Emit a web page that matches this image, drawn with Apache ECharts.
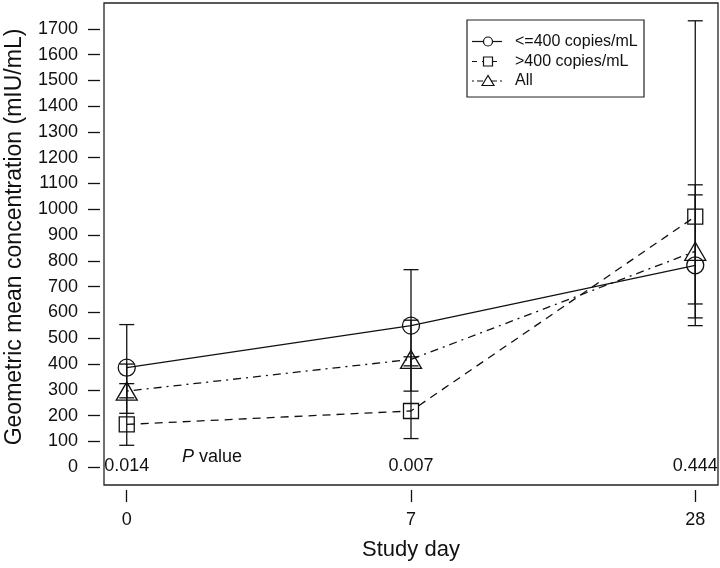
<!DOCTYPE html>
<html>
<head>
<meta charset="utf-8">
<script src="https://cdn.jsdelivr.net/npm/echarts@6/dist/echarts.min.js"></script>
<style>
html,body{margin:0;padding:0;background:#fff;}
#chart{width:720px;height:568px;}
</style>
</head>
<body>
<div id="chart"></div>
<script>
// ---- data ----
const days = ['0', '7', '28'];
const seriesNames = ['<=400 copies/mL', '>400 copies/mL', 'All'];
const gmcLow = [386, 549, 783];      // <=400 copies/mL
const gmcHigh = [166, 218, 972];     // >400 copies/mL
const gmcAll = [295, 418, 837];      // All
const ciLowLower = [269, 393, 579];
const ciLowUpper = [553, 766, 1056];
const ciHighLower = [85, 111, 549];
const ciHighUpper = [324, 428, 1731];
const ciAllLower = [209, 295, 633];
const ciAllUpper = [400, 570, 1095];
const pValues = ['0.014', '0.007', '0.444'];
const yTicks = [0,100,200,300,400,500,600,700,800,900,1000,1100,1200,1300,1400,1500,1600,1700];
const xTitle = 'Study day';
const yTitle = 'Geometric mean concentration (mIU/mL)';
const pLabel = 'P';
const pLabelRest = ' value';

const FONT = '"Liberation Sans", Arial, Helvetica, sans-serif';
const INK = '#111';

function pts(vals) { return vals.map((v, i) => [i, v]); }
function bars(lo, hi) { return lo.map((l, i) => [i, l, hi[i]]); }

function errRender(params, api) {
  const x = api.value(0);
  const p1 = api.coord([x, api.value(1)]);
  const p2 = api.coord([x, api.value(2)]);
  const hw = 7.5;
  const st = { stroke: INK, lineWidth: 1.3 };
  return {
    type: 'group',
    children: [
      { type: 'line', shape: { x1: p1[0], y1: p1[1], x2: p2[0], y2: p2[1] }, style: st },
      { type: 'line', shape: { x1: p1[0] - hw, y1: p1[1], x2: p1[0] + hw, y2: p1[1] }, style: st },
      { type: 'line', shape: { x1: p2[0] - hw, y1: p2[1], x2: p2[0] + hw, y2: p2[1] }, style: st }
    ]
  };
}

function pRender(params, api) {
  const p = api.coord([api.value(0), api.value(1)]);
  return {
    type: 'text', x: p[0], y: p[1],
    style: { text: pValues[params.dataIndex], font: '18px ' + FONT, fill: INK, align: 'center', verticalAlign: 'middle' }
  };
}

const hollow = { color: 'rgba(255,255,255,0)', borderColor: INK, borderWidth: 1.3 };

const series = [
  { type: 'custom', name: 'ci1', renderItem: errRender, data: bars(ciLowLower, ciLowUpper), z: 1, silent: true },
  { type: 'custom', name: 'ci2', renderItem: errRender, data: bars(ciHighLower, ciHighUpper), z: 1, silent: true },
  { type: 'custom', name: 'ci3', renderItem: errRender, data: bars(ciAllLower, ciAllUpper), z: 1, silent: true },
  {
    type: 'line', name: seriesNames[0], data: pts(gmcLow),
    symbol: 'circle', symbolSize: 17, showSymbol: true,
    lineStyle: { color: INK, width: 1.3, type: 'solid' },
    itemStyle: hollow, z: 3
  },
  {
    type: 'line', name: seriesNames[1], data: pts(gmcHigh),
    symbol: 'rect', symbolSize: 15, showSymbol: true,
    lineStyle: { color: INK, width: 1.3, type: [8, 6] },
    itemStyle: hollow, z: 3
  },
  {
    type: 'line', name: seriesNames[2], data: pts(gmcAll),
    symbol: 'triangle', symbolSize: [21, 18], showSymbol: true,
    lineStyle: { color: INK, width: 1.3, type: [2, 5, 8, 5] },
    itemStyle: hollow, z: 3
  },
  { type: 'custom', name: 'p', renderItem: pRender, data: pValues.map((p, i) => [i, 5]), z: 4, silent: true }
];

// legend (graphic)
const legendRows = [41.5, 61.5, 81];
const legX0 = 472, legX1 = 502, legCx = 488;
const legendEls = [
  { type: 'rect', shape: { x: 467, y: 20, width: 177, height: 77 },
    style: { fill: '#fff', stroke: '#222', lineWidth: 1.2 }, z: 10 }
];
const dashes = [null, [5, 5], [2, 3, 6, 3]];
legendRows.forEach((y, i) => {
  legendEls.push({ type: 'line', shape: { x1: legX0, y1: y, x2: legX1, y2: y },
    style: { stroke: INK, lineWidth: 1.2, lineDash: dashes[i] }, z: 11 });
  let sym;
  if (i === 0) sym = { type: 'circle', shape: { cx: legCx, cy: y, r: 4.5 } };
  else if (i === 1) sym = { type: 'rect', shape: { x: legCx - 4.5, y: y - 4.5, width: 9, height: 9 } };
  else sym = { type: 'polygon', shape: { points: [[legCx, y - 5.5], [legCx - 6, y + 4.5], [legCx + 6, y + 4.5]] } };
  sym.style = { fill: '#fff', stroke: INK, lineWidth: 1.2 };
  sym.z = 12;
  legendEls.push(sym);
  legendEls.push({ type: 'text', x: 515, y: y, z: 12,
    style: { text: seriesNames[i], font: '16px ' + FONT, fill: INK, verticalAlign: 'middle', align: 'left' } });
});
legendEls.push({ type: 'text', x: 182, y: 457, z: 12,
  style: { text: '{i|' + pLabel + '}' + pLabelRest, fill: INK, verticalAlign: 'middle', align: 'left',
    font: '18px ' + FONT,
    rich: { i: { fontStyle: 'italic', fontSize: 18, fontFamily: FONT, fill: INK } } } });
// y-axis title
legendEls.push({ type: 'text', x: 15, y: 237, rotation: Math.PI / 2, z: 12,
  style: { text: yTitle, font: '23px ' + FONT, fill: INK, align: 'center', verticalAlign: 'middle' } });

const option = {
  backgroundColor: '#fff',
  animation: false,
  grid: { left: 104, top: 3, width: 614, height: 482, show: true, borderColor: '#222', borderWidth: 1.3,
    backgroundColor: 'transparent', containLabel: false, outerBoundsMode: 'none' },
  xAxis: {
    type: 'value', min: -0.08, max: 2.08,
    offset: 5,
    name: xTitle, nameLocation: 'middle', nameGap: 49,
    nameTextStyle: { fontSize: 22, fontFamily: FONT, color: INK },
    axisLine: { show: false, onZero: false },
    axisTick: { show: true, length: 12, customValues: [0, 1, 2], lineStyle: { color: INK, width: 1.3 } },
    axisLabel: { customValues: [0, 1, 2], formatter: (v) => days[Math.round(v)], fontSize: 18, fontFamily: FONT, color: INK, margin: 21 },
    splitLine: { show: false }
  },
  yAxis: {
    type: 'value', min: -69, max: 1800,
    offset: 4,
    axisLine: { show: false, onZero: false },
    axisTick: { show: true, length: 12, customValues: yTicks, lineStyle: { color: INK, width: 1.3 } },
    axisLabel: { customValues: yTicks, formatter: (v) => String(v), fontSize: 18, fontFamily: FONT, color: INK, margin: 22 },
    splitLine: { show: false }
  },
  graphic: legendEls,
  series: series
};

const chart = echarts.init(document.getElementById('chart'), null, { renderer: 'canvas' });
chart.setOption(option);
</script>
</body>
</html>
